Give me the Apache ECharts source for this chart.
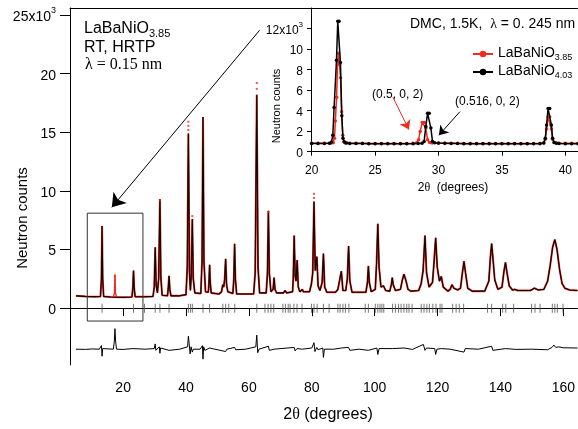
<!DOCTYPE html>
<html>
<head>
	<meta charset="utf-8">
	<title>LaBaNiO neutron pattern</title>
	<script src="https://cdn.jsdelivr.net/npm/echarts@6.0.0/dist/echarts.min.js"></script>
	<style>
		html, body { margin: 0; padding: 0; background: #fff; }
		#main { width: 578px; height: 429px; }
	</style>
</head>
<body>
<div id="main"></div>
<script>
	// HRTP pattern, RT (x = 2theta, y = counts / 1000)
	var calcProfile = [
		[5.0,1.05],[8,1.0],[11,0.98],[12.8,1.0],[13.1,2.5],[13.3,7.0],[13.5,2.5],[13.8,1.0],[16,0.95],[20,0.92],
		[22.8,0.95],[23.1,1.8],[23.3,3.2],[23.5,1.8],[23.8,0.97],[27,0.98],[29.5,1.0],[29.9,1.8],[30.2,5.2],[30.5,2.0],
		[30.9,1.3],[31.3,2.5],[31.7,9.3],[32.0,2.6],[32.4,1.1],[34.1,1.05],[34.35,1.7],[34.6,2.75],[34.85,1.6],[35.2,1.05],
		[38,1.05],[40.0,1.15],[40.4,3.5],[40.75,14.9],[41.1,3.0],[41.4,1.5],[41.7,3.0],[42.0,7.6],[42.3,2.5],[42.8,1.3],
		[44.7,1.25],[45.1,4.0],[45.4,16.3],[45.7,4.0],[46.2,1.4],[47.1,1.35],[47.3,2.2],[47.5,3.7],[47.7,2.2],[48.0,1.3],
		[50.5,1.2],[51.3,1.4],[51.7,2.0],[52.0,1.8],[52.3,2.5],[52.6,4.2],[52.9,2.0],[53.3,1.4],[54.9,1.25],[55.2,2.5],
		[55.45,5.5],[55.7,2.5],[56.1,1.2],[61.5,1.2],[62.0,3.0],[62.5,18.2],[62.9,3.5],[63.4,1.3],[65.5,1.3],[65.9,3.0],
		[66.2,8.3],[66.5,3.0],[67.0,1.4],[67.7,1.6],[68.0,2.6],[68.3,1.6],[68.8,1.3],[71.0,1.3],[71.5,1.5],[72.0,1.3],
		[73.9,1.4],[74.1,2.5],[74.4,6.2],[74.7,2.8],[75.0,2.3],[75.35,4.1],[75.7,1.8],[76.2,1.4],[76.7,1.4],[77.0,1.6],
		[77.3,1.4],[79.3,1.4],[79.9,2.1],[80.3,3.0],[80.7,9.1],[81.1,3.2],[81.6,4.4],[82.0,1.9],[82.6,1.5],[83.3,2.2],
		[83.7,4.65],[84.1,1.8],[84.8,1.35],[87.5,1.35],[88.3,1.6],[88.9,1.5],[89.4,3.15],[89.9,1.5],[90.8,1.5],[91.3,2.5],
		[91.7,5.3],[92.1,2.3],[92.8,1.35],[97.2,1.35],[97.7,2.2],[98.0,3.6],[98.3,2.2],[98.9,1.4],[100.2,1.6],[100.6,3.8],
		[101.0,7.2],[101.4,3.5],[102.0,1.8],[102.8,1.9],[103.5,1.5],[104.8,1.45],[105.3,2.0],[105.6,2.6],[105.9,2.0],[106.6,1.5],
		[108.2,1.6],[108.8,2.4],[109.3,2.9],[110.0,2.3],[110.6,1.6],[111.5,1.45],[114.0,1.5],[114.8,2.1],[115.4,3.2],[116.0,6.2],
		[116.5,3.0],[117.3,1.8],[118.4,2.2],[118.9,4.0],[119.4,6.0],[119.9,3.5],[120.6,2.3],[121.2,2.7],[121.8,1.8],[123.3,1.45],
		[124.0,1.6],[124.6,2.0],[125.2,1.7],[125.8,1.8],[126.4,1.55],[127.3,1.7],[127.9,3.0],[128.4,4.0],[128.9,3.0],[129.6,1.7],
		[131.0,1.45],[135.0,1.45],[136.3,2.3],[136.8,4.3],[137.2,5.5],[137.6,4.3],[138.2,2.4],[139.2,1.6],[140.5,1.8],[141.1,3.1],
		[141.6,3.9],[142.1,3.0],[142.8,1.9],[143.8,1.55],[144.5,1.6],[145.5,1.5],[149.5,1.5],[150.8,1.7],[152.0,1.55],[153.8,1.6],
		[155.0,2.3],[155.8,3.6],[156.6,5.2],[157.3,5.85],[158.0,5.0],[158.8,3.3],[159.6,2.1],[160.5,1.7],[162.0,1.55],[164.5,1.5]
	];
	// observed points that stand apart from the calculated profile
	var obsExtraPeak = [[16.9,0.95],[17.25,1.3],[17.4,2.8],[17.55,1.3],[17.9,0.95]];
	var obsDots = [
		[17.4,1.5],[17.4,1.8],[17.4,2.1],[17.4,2.4],[17.4,2.65],[17.35,2.8],
		[40.75,15.2],[40.75,15.55],[40.75,15.9],[42.0,7.85],[62.5,18.7],[62.5,19.2],
		[80.7,9.4],[80.7,9.75],[31.7,9.2],[66.2,8.2]
	];
	// difference curve (obs - calc, shifted)
	var diffCurve = [
		[5.0,-3.5],[8,-3.52],[10,-3.48],[12.4,-3.5],[12.9,-3.5],[13.1,-3.2],[13.3,-4.1],[13.5,-3.45],[16.9,-3.5],[17.2,-2.8],
		[17.4,-1.75],[17.6,-2.8],[17.9,-3.5],[20,-3.52],[23.1,-3.45],[23.3,-3.6],[23.5,-3.5],[27,-3.5],[29.9,-3.45],[30.2,-3.05],
		[30.4,-3.6],[31.5,-3.3],[31.7,-3.85],[31.9,-3.4],[32.3,-3.5],[34.6,-3.6],[35,-3.5],[38,-3.5],[40.5,-3.3],[40.75,-2.4],
		[41.0,-3.0],[41.3,-3.9],[41.6,-3.3],[42.0,-3.75],[42.3,-3.5],[44.5,-3.5],[45.2,-3.2],[45.4,-4.35],[45.6,-3.3],[46,-3.6],
		[47.5,-3.4],[48,-3.55],[52.6,-3.7],[53,-3.5],[55.45,-3.35],[55.8,-3.55],[59,-3.5],[62.2,-3.3],[62.5,-2.3],[62.8,-3.8],
		[63.2,-3.5],[66.2,-3.25],[66.5,-3.6],[68,-3.5],[74.4,-3.35],[74.7,-3.65],[75.3,-3.45],[77,-3.5],[80.0,-3.4],[80.7,-2.95],
		[81.0,-3.7],[81.6,-3.35],[82,-3.55],[83.5,-3.4],[83.7,-4.2],[84.0,-3.5],[87,-3.5],[89.4,-3.4],[91.7,-3.35],[92.1,-3.6],
		[95,-3.5],[98,-3.6],[100.7,-3.4],[101.0,-3.95],[101.4,-3.45],[105.6,-3.45],[109.3,-3.4],[112,-3.52],[115.5,-3.1],[116.0,-3.6],
		[116.5,-3.4],[119.1,-3.45],[119.4,-3.95],[119.8,-3.5],[121.2,-3.45],[124,-3.5],[128.4,-3.75],[128.8,-3.45],[133,-3.5],[137.2,-3.25],
		[137.6,-3.6],[138,-3.5],[141.6,-3.45],[145,-3.52],[150,-3.5],[155,-3.55],[156.4,-3.35],[157.0,-3.15],[157.6,-3.35],[158.5,-3.3],
		[160,-3.38],[164.5,-3.4]
	];
	// Bragg reflection positions
	var braggPos = [
		13.3,23.3,26.8,30.2,31.7,34.6,40.75,41.4,42.0,45.4,47.5,51.7,52.6,53.6,55.5,62.5,65.1,66.1,67.0,67.9,
		70.8,71.6,72.5,73.1,74.3,75.3,76.9,79.9,80.7,81.7,83.7,85.5,88.3,89.0,89.9,90.7,91.8,97.0,98.0,100.2,
		101.0,101.7,102.3,102.9,105.7,106.6,107.6,108.4,109.3,110.2,110.9,111.9,114.8,115.7,116.6,117.4,118.5,119.5,120.8,121.4,
		124.8,125.9,126.9,128.3,135.9,137.2,140.7,141.7,144.2,149.9,151.0,152.6,156.5,157.3,158.1,159.9
	];
	var zoomBox = [[8.6,-1.1],[26.3,-1.1],[26.3,8.1],[8.6,8.1],[8.6,-1.1]];
	var mainXTicks = [20,40,60,80,100,120,140,160];
	var mainYTicks = [0,5,10,15,20,25];

	// DMC inset, 1.5 K
	var dmc385 = [
		[20.0,0.82],[20.5,0.82],[21.0,0.82],[21.5,0.83],[21.7,0.88],[21.8,1.3],[21.87,3.0],[21.97,5.3],[22.04,8.5],[22.12,9.6],
		[22.2,8.5],[22.28,7.2],[22.36,3.9],[22.45,1.6],[22.55,1.0],[22.65,0.88],[22.8,0.84],[23.0,0.82],[23.5,0.82],[24.0,0.81],
		[24.5,0.8],[25.0,0.8],[25.5,0.8],[26.0,0.8],[26.5,0.8],[27.0,0.8],[27.5,0.8],[28.0,0.82],[28.3,0.9],[28.43,1.17],
		[28.56,1.97],[28.72,2.85],[28.87,2.85],[29.0,2.3],[29.14,1.17],[29.3,0.9],[29.5,0.85],[30.0,0.83],[30.5,0.82],[31.0,0.82],
		[31.5,0.81],[32.0,0.8],[32.5,0.8],[33.0,0.8],[33.5,0.8],[34.0,0.8],[34.5,0.8],[35.0,0.8],[35.5,0.8],[36.0,0.8],
		[36.5,0.8],[37.0,0.8],[37.5,0.8],[38.0,0.81],[38.3,0.85],[38.42,1.2],[38.52,2.2],[38.64,3.4],[38.77,3.4],[38.9,2.2],
		[39.0,1.2],[39.12,0.9],[39.3,0.84],[39.5,0.82],[40.0,0.82],[40.5,0.82],[41.0,0.82]
	];
	var dmc403 = [
		[20.0,0.8],[20.5,0.8],[21.0,0.8],[21.4,0.82],[21.57,0.95],[21.67,1.6],[21.77,4.3],[21.96,8.9],[22.06,12.7],[22.16,12.7],
		[22.27,8.7],[22.38,3.5],[22.47,1.3],[22.57,0.95],[22.7,0.85],[23.0,0.8],[23.5,0.8],[24.0,0.8],[24.5,0.78],[25.0,0.78],
		[25.5,0.78],[26.0,0.78],[26.5,0.78],[27.0,0.78],[27.5,0.78],[28.0,0.78],[28.4,0.8],[28.7,0.82],[28.87,1.0],[29.0,2.46],
		[29.14,3.75],[29.27,3.75],[29.4,2.3],[29.53,1.0],[29.7,0.88],[30.0,0.84],[30.5,0.82],[31.0,0.8],[31.5,0.8],[32.0,0.78],
		[32.5,0.78],[33.0,0.78],[33.5,0.78],[34.0,0.78],[34.5,0.78],[35.0,0.78],[35.5,0.78],[36.0,0.78],[36.5,0.78],[37.0,0.78],
		[37.5,0.78],[38.0,0.78],[38.3,0.85],[38.42,1.3],[38.52,2.6],[38.64,4.2],[38.77,4.2],[38.9,2.6],[39.0,1.3],[39.12,0.9],
		[39.3,0.82],[39.5,0.8],[40.0,0.78],[40.5,0.78],[41.0,0.78]
	];
	var insetXTicks = [20,25,30,35,40];
	var insetYTicks = [0,2,4,6,8,10,12];

	var SANS = 'Liberation Sans, Arial, Helvetica, sans-serif';
	var SERIF = 'Liberation Serif, Times New Roman, serif';
	var RED = '#ee2b1e';

	var chart = echarts.init(document.getElementById('main'), null, {renderer: 'canvas'});

	var subRich = function (size, subSize, drop) {
		return {
			m: {fontSize: size, fontFamily: SANS, color: '#000', lineHeight: size + 2, verticalAlign: 'top'},
			s: {fontSize: subSize, fontFamily: SANS, color: '#000', lineHeight: subSize, padding: [drop, 0, 0, 0], verticalAlign: 'bottom'}
		};
	};
	var supRich = function (size, supSize) {
		return {
			a: {fontSize: size, fontFamily: SANS, color: '#000', lineHeight: size + 4, verticalAlign: 'bottom'},
			p: {fontSize: supSize, fontFamily: SANS, color: '#000', lineHeight: supSize, verticalAlign: 'top'}
		};
	};

	var option = {
		animation: false,
		backgroundColor: '#fff',
		grid: [
			{left: 70, top: 8, right: 0, bottom: 64},
			{left: 311, top: 8, right: 0, height: 145}
		],
		legend: [
			{
				data: ['LaBaNiO3.85'], left: 467, top: 36, orient: 'vertical',
				itemWidth: 20, itemHeight: 8, itemGap: 4,
				formatter: function () { return '{m|LaBaNiO}{s|3.85}'; },
				textStyle: {rich: subRich(14, 9, 12)}
			},
			{
				data: ['LaBaNiO4.03'], left: 467, top: 54, orient: 'vertical',
				itemWidth: 20, itemHeight: 8, itemGap: 4,
				formatter: function () { return '{m|LaBaNiO}{s|4.03}'; },
				textStyle: {rich: subRich(14, 9, 12)}
			}
		],
		xAxis: [
			{
				gridIndex: 0, type: 'value', min: 3.1, max: 164.5,
				axisLine: {lineStyle: {color: '#000', width: 1}},
				axisTick: {length: 8, lineStyle: {color: '#000'}, customValues: mainXTicks},
				axisLabel: {color: '#000', fontSize: 14, fontFamily: SANS, margin: 16, customValues: mainXTicks},
				splitLine: {show: false}
			},
			{
				gridIndex: 0, type: 'value', position: 'top', min: 3.1, max: 164.5,
				axisLine: {lineStyle: {color: '#000', width: 1}},
				axisTick: {show: false}, axisLabel: {show: false}, splitLine: {show: false}
			},
			{
				gridIndex: 1, type: 'value', min: 19.95, max: 41.0,
				axisLine: {lineStyle: {color: '#000', width: 1}},
				axisTick: {length: 4, lineStyle: {color: '#000'}, customValues: insetXTicks},
				axisLabel: {color: '#000', fontSize: 12, fontFamily: SANS, margin: 12, customValues: insetXTicks},
				splitLine: {show: false}
			}
		],
		yAxis: [
			{
				gridIndex: 0, type: 'value', min: -4.85, max: 25.6,
				axisLine: {show: true, lineStyle: {color: '#000', width: 1}},
				axisTick: {show: true, length: 10, lineStyle: {color: '#000'}, customValues: mainYTicks},
				axisLabel: {
					margin: 14, customValues: mainYTicks,
					formatter: function (v) { return v === 25 ? '{a|25x10}{p|3}' : '{a|' + v + '}'; },
					rich: supRich(14, 9)
				},
				splitLine: {show: false}
			},
			{
				gridIndex: 1, type: 'value', min: -0.13, max: 14.0,
				axisLine: {show: true, lineStyle: {color: '#000', width: 1}},
				axisTick: {show: true, length: 4, lineStyle: {color: '#000'}, customValues: insetYTicks},
				axisLabel: {
					margin: 8, customValues: insetYTicks,
					formatter: function (v) { return v === 12 ? '{a|12x10}{p|3}' : '{a|' + v + '}'; },
					rich: supRich(12, 8)
				},
				splitLine: {show: false}
			}
		],
		series: [
			{
				name: 'obs', type: 'line', xAxisIndex: 0, yAxisIndex: 0, data: calcProfile,
				symbol: 'none', lineStyle: {color: RED, width: 2.0}, z: 2
			},
			{
				name: 'obs peak', type: 'line', xAxisIndex: 0, yAxisIndex: 0, data: obsExtraPeak,
				symbol: 'none', lineStyle: {color: RED, width: 1.4}, z: 2
			},
			{
				name: 'obs dots', type: 'scatter', xAxisIndex: 0, yAxisIndex: 0, data: obsDots,
				symbol: 'rect', symbolSize: 2, itemStyle: {color: RED}, z: 4
			},
			{
				name: 'calc', type: 'line', xAxisIndex: 0, yAxisIndex: 0, data: calcProfile,
				symbol: 'none', lineStyle: {color: '#000', width: 1.1}, z: 3
			},
			{
				name: 'bragg', type: 'scatter', xAxisIndex: 0, yAxisIndex: 0,
				data: braggPos.map(function (p) { return [p, 0]; }),
				symbol: 'rect', symbolSize: [1, 9], itemStyle: {color: '#555'}, z: 3
			},
			{
				name: 'diff', type: 'line', xAxisIndex: 0, yAxisIndex: 0, data: diffCurve,
				symbol: 'none', lineStyle: {color: '#000', width: 1}, z: 3
			},
			{
				name: 'box', type: 'line', xAxisIndex: 0, yAxisIndex: 0, data: zoomBox,
				symbol: 'none', lineStyle: {color: '#333', width: 1}, z: 3
			},
			{
				name: 'zoom arrow', type: 'lines', coordinateSystem: 'cartesian2d', xAxisIndex: 0, yAxisIndex: 0,
				symbol: ['none', 'arrow'], symbolSize: 13,
				lineStyle: {color: '#000', width: 1, opacity: 1},
				data: [{coords: [[63.4, 23.7], [16.4, 8.6]]}], z: 5
			},
			{
				name: 'LaBaNiO3.85', type: 'line', xAxisIndex: 2, yAxisIndex: 1, data: dmc385,
				symbol: 'circle', symbolSize: 3.5, showAllSymbol: true,
				itemStyle: {color: RED}, lineStyle: {color: RED, width: 1.5}, z: 3
			},
			{
				name: 'LaBaNiO4.03', type: 'line', xAxisIndex: 2, yAxisIndex: 1, data: dmc403,
				symbol: 'circle', symbolSize: 3.5, showAllSymbol: true,
				itemStyle: {color: '#000'}, lineStyle: {color: '#000', width: 1.5}, z: 4
			},
			{
				name: 'inset arrows', type: 'lines', coordinateSystem: 'cartesian2d', xAxisIndex: 2, yAxisIndex: 1,
				symbol: ['none', 'arrow'], symbolSize: 9,
				data: [
					{coords: [[26.41, 5.3], [27.67, 2.15]], lineStyle: {color: RED, width: 1, opacity: 1}},
					{coords: [[31.69, 3.9], [30.03, 1.6]], lineStyle: {color: '#000', width: 1, opacity: 1}}
				], z: 5
			}
		],
		graphic: [
			{type: 'text', x: 84, y: 21, style: {text: '{m|LaBaNiO}{s|3.85}', rich: subRich(16, 11, 11), verticalAlign: 'top'}},
			{type: 'text', x: 84, y: 48, style: {text: 'RT, HRTP', font: '16px ' + SANS, fill: '#000', verticalAlign: 'middle'}},
			{type: 'text', x: 85, y: 65, style: {text: 'λ = 0.15 nm', font: '16px ' + SERIF, fill: '#000', verticalAlign: 'middle'}},
			{type: 'text', x: 23, y: 218, rotation: Math.PI / 2,
				style: {text: 'Neutron counts', font: '15px ' + SANS, fill: '#000', align: 'center', verticalAlign: 'middle'}},
			{type: 'text', x: 328, y: 415, style: {
				text: '{a|2}{t|θ}{a| (degrees)}', align: 'center', verticalAlign: 'middle',
				rich: {a: {fontSize: 16, fontFamily: SANS, color: '#000'}, t: {fontSize: 16, fontFamily: SERIF, color: '#000'}}
			}},
			{type: 'text', x: 277, y: 106, rotation: Math.PI / 2,
				style: {text: 'Neutron counts', font: '11px ' + SANS, fill: '#000', align: 'center', verticalAlign: 'middle'}},
			{type: 'text', x: 453, y: 188, style: {
				text: '{a|2}{t|θ}{a|  (degrees)}', align: 'center', verticalAlign: 'middle',
				rich: {a: {fontSize: 12, fontFamily: SANS, color: '#000'}, t: {fontSize: 12, fontFamily: SERIF, color: '#000'}}
			}},
			{type: 'text', x: 410, y: 24, style: {
				text: '{a|DMC, 1.5K,  }{t|λ}{a| = 0. 245 nm}', verticalAlign: 'middle',
				rich: {a: {fontSize: 14, fontFamily: SANS, color: '#000'}, t: {fontSize: 14, fontFamily: SERIF, color: '#000'}}
			}},
			{type: 'text', x: 372, y: 95, style: {text: '(0.5, 0, 2)', font: '12px ' + SANS, fill: '#000', verticalAlign: 'middle'}},
			{type: 'text', x: 455, y: 102, style: {text: '(0.516, 0, 2)', font: '12px ' + SANS, fill: '#000', verticalAlign: 'middle'}}
		]
	};
	chart.setOption(option);
</script>
</body>
</html>
